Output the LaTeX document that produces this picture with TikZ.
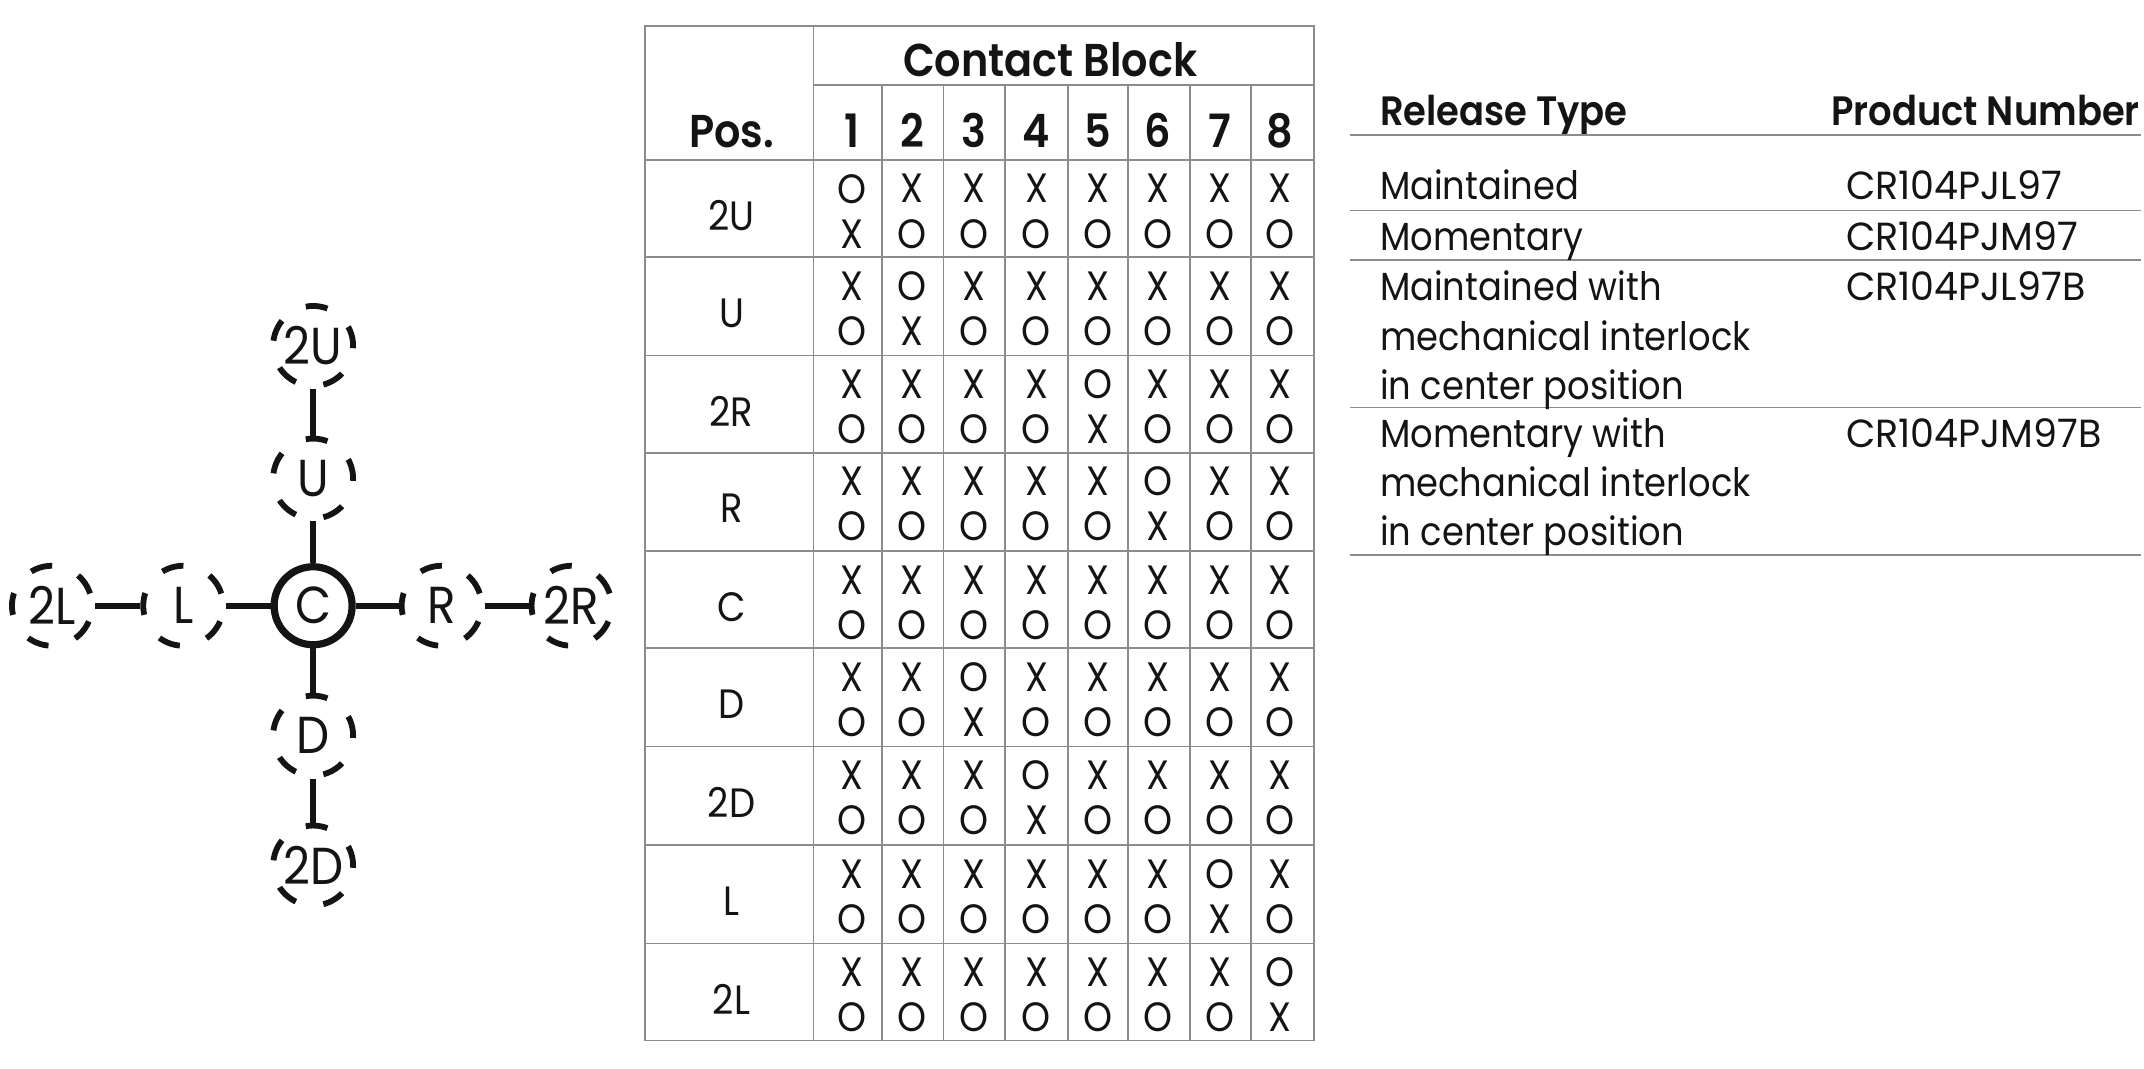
\documentclass[tikz,border=0pt]{standalone}
\usepackage{fontspec}
\setmainfont{Poppins}[FakeStretch=0.9]
\newfontfamily\semifont{Poppins SemiBold}[FakeStretch=0.9]
\newfontfamily\partfont{Poppins}[FakeStretch=0.97]
\newcommand{\bodyfs}{\fontsize{19.6}{24.6}\selectfont}
\newcommand{\cellfs}{\fontsize{20.5}{24.6}\selectfont}
\newcommand{\posfs}{\fontsize{26}{28}\selectfont}
\newcommand{\headfs}{\semifont\fontsize{20.5}{24.6}\selectfont}
\newcommand{\bigfs}{\semifont\fontsize{23}{26}\selectfont}
\definecolor{tblgray}{HTML}{8C8C8C}
\definecolor{ink}{HTML}{141414}
\tikzset{
  posnode/.style={circle,draw=ink,line width=2.9pt,minimum size=40pt,inner sep=0pt,text=ink,font=\posfs},
  posv/.style={posnode,dash pattern=on 11pt off 14.1pt,dash phase=1pt},
  posh/.style={posnode,dash pattern=on 11pt off 14.1pt,dash phase=18.9pt},
  posc/.style={posnode,line width=3.6pt,minimum size=39pt},
  linkline/.style={draw=ink,line width=2.9pt},
  gridline/.style={draw=tblgray,line width=0.9pt},
  ruleline/.style={draw=tblgray,line width=0.9pt},
  celltext/.style={inner sep=0pt,text=ink,font=\cellfs,anchor=center},
  headtext/.style={inner sep=0pt,text=ink,font=\bigfs,anchor=base},
  lefttext/.style={inner sep=0pt,text=ink,font=\bodyfs,anchor=north west,align=left},
  leftbase/.style={inner sep=0pt,text=ink,font=\bodyfs,anchor=base west},
  partbase/.style={inner sep=0pt,text=ink,font=\bodyfs\partfont,anchor=base west},
  headleft/.style={inner sep=0pt,text=ink,font=\headfs,anchor=base west}
}
\begin{document}
\begin{tikzpicture}[x=0.68367pt,y=-0.68367pt]
\useasboundingbox (0,0) rectangle (1568,781.8);
% joystick diagram
\node[posc] (C) at (229,443) {C};
\node[posv] (U) at (229,350) {U};
\node[posv] (2U) at (229,253) {2U};
\node[posv] (D) at (229,538) {D};
\node[posv] (2D) at (229,633) {2D};
\node[posh] (L) at (134,443) {L};
\node[posh] (2L) at (38,443) {2L};
\node[posh] (R) at (323,443) {R};
\node[posh] (2R) at (418,443) {2R};
\draw[linkline] (C) -- (U);
\draw[linkline] (U) -- (2U);
\draw[linkline] (C) -- (D);
\draw[linkline] (D) -- (2D);
\draw[linkline] (C) -- (L);
\draw[linkline] (L) -- (2L);
\draw[linkline] (C) -- (R);
\draw[linkline] (R) -- (2R);
% table grid
\draw[gridline] (472,19) rectangle (961,761);
\draw[gridline] (595,19) -- (595,117);
\draw[gridline] (595,62) -- (961,62);
\draw[gridline] (472,117) -- (961,117);
\foreach \yy in {188,260,331,403,474,546,618,690} \draw[gridline] (472,\yy) -- (961,\yy);
\foreach \xx in {595,645,690,735,781,825,870,915} \draw[gridline] (\xx,62) -- (\xx,761);
% table headers
\node[headtext] (chead) at (768,56) {Contact Block};
\node[headtext] (phead) at (535,108) {Pos.};
\foreach \n/\xx in {1/623,2/667,3/712,4/758,5/803,6/847,7/892,8/936}
  \node[headtext] (col\n) at (\xx,108) {\n};
% table body
\foreach \lab/\top/\sp [count=\r] in {2U/117/1,U/188/2,2R/260/5,R/331/6,C/403/0,D/474/3,2D/546/4,L/618/7,2L/690/8}{
  \node[celltext] (row\r) at (535,\top+41) {\lab};
  \foreach \k/\xx in {1/623,2/667,3/712,4/758,5/803,6/847,7/892,8/936}{
    \ifnum\k=\sp\relax
      \node[celltext] (a\r\k) at (\xx,\top+21) {O};
      \node[celltext] (b\r\k) at (\xx,\top+54) {X};
    \else
      \node[celltext] (a\r\k) at (\xx,\top+21) {X};
      \node[celltext] (b\r\k) at (\xx,\top+54) {O};
    \fi
  }
}
% release table
\node[headleft] (rtype) at (1009,92) {Release Type};
\node[headleft] (pnum) at (1339,92) {Product Number};
\foreach \yy in {99,154,190,298,406} \draw[ruleline] (987,\yy) -- (1566,\yy);
\node[leftbase] (t1) at (1009,146) {Maintained};
\node[leftbase] (t2) at (1009,183) {Momentary};
\node[lefttext] (t3) at (1009,198) {Maintained with\\mechanical interlock\\in center position};
\node[lefttext] (t4) at (1009,305) {Momentary with\\mechanical interlock\\in center position};
\node[partbase] (p1) at (1350,146) {CR104PJL97};
\node[partbase] (p2) at (1350,183) {CR104PJM97};
\node[partbase] (p3) at (1350,220) {CR104PJL97B};
\node[partbase] (p4) at (1350,327) {CR104PJM97B};
\end{tikzpicture}
\end{document}
